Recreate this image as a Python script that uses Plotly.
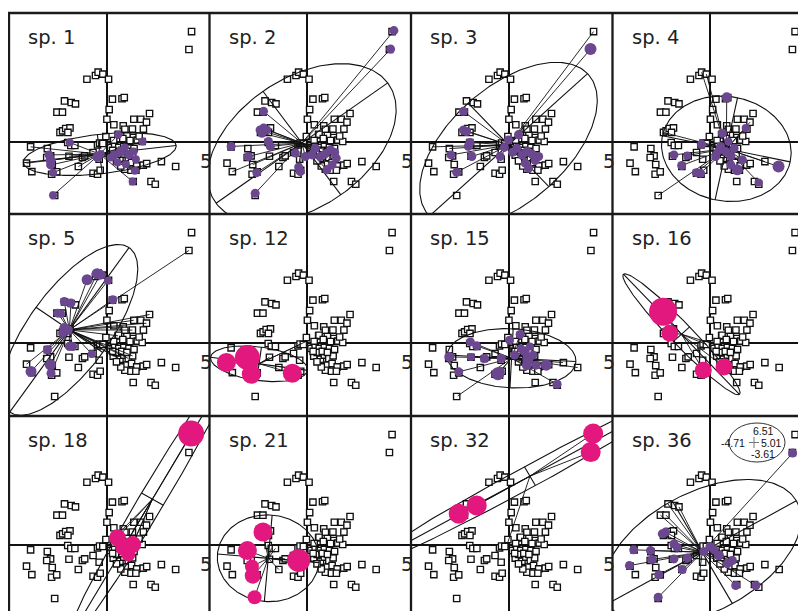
import math
import plotly.graph_objects as go

# page body has an 8px margin, so the figure is 8px smaller and shifted
PAGE_OFF = 8
W, H = 806 - PAGE_OFF, 611 - PAGE_OFF

# ---------------- data (data units of the ordination plane) ----------------
site_x = [4.17, 4.04,
          -0.96, -0.54, -0.41, -0.18, 0.10,
          -2.06, -1.73, -1.52, -2.43, -2.16,
          0.29, 0.76, 0.87, 0.13, 0.02, 0.36,
          1.34, 1.68, 2.11, 1.96, 0.82, 0.90, 1.27, 1.81,
          -2.28, -2.15, -2.00, -1.79, -1.89,
          -1.90, -1.75, -1.55, -0.44, -0.34, -0.18, -0.03,
          -3.72, -2.90, -2.74, -2.93, -3.92, -3.66, -2.66, -2.69, -2.44, -2.54,
          -1.84, -1.38, -1.18, -1.07, -0.66, -0.36, -0.66, -0.44, -0.31,
          0.57, 0.59, 1.31, 1.51, 1.75, 1.60, 1.00, 0.80, 1.15, 0.35,
          0.33, 0.66, 0.85, 1.07, 1.28, 0.98, 1.23, 1.48, 1.80, 1.97, 0.90, 1.20, 1.44, 0.70, 0.49,
          2.69, 3.39, 1.31, 2.18, 2.39,
          0.20, 0.40, 0.60, 0.85, 1.10, 1.35, 0.50, 0.75, 1.00, 0.30]
site_y = [5.58, 4.67,
          3.16, 3.35, 3.52, 3.42, 3.16,
          2.06, 1.98, 1.91, 1.49, 1.49,
          2.15, 2.17, 2.23, 1.62, 1.13, 0.85,
          1.13, 1.13, 1.42, 0.98, 0.80, 0.62, 0.63, 0.63,
          0.46, 0.54, 0.66, 0.69, 0.46,
          -0.05, -0.20, -0.20, -0.17, -0.08, -0.10, 0.25,
          -0.27, -0.36, -0.73, -0.81, -1.10, -1.53, -1.17, -1.66, -1.54, -2.74,
          -0.75, -1.27, -0.81, -0.73, -0.56, -0.90, -1.61, -1.66, -1.46,
          0.34, 0.37, 0.20, 0.07, 0.00, 0.28, 0.30, 0.15, 0.05, 0.05,
          -0.69, -0.85, -0.64, -0.81, -0.68, -1.15, -1.07, -1.24, -1.20, -1.12, -1.41, -1.46, -1.46, -1.24, -0.98,
          -1.02, -1.27, -2.03, -2.03, -2.17,
          -0.30, -0.25, -0.30, -0.25, -0.30, -0.35, -0.50, -0.45, -0.50, -0.45]

sp1 = dict(label="sp. 1", c=(-0.33, -0.64), ell=(3.77, 1.0, 6.7),
           x=[-2.82, -2.74, -2.74, -2.62, -2.62, -1.80, -0.44, -0.28, 0.38, 0.57, 0.70, 0.90, 1.11, 1.33, 1.44, 1.77, 1.28, 0.95, 1.39, 0.21, 0.54],
           y=[-0.68, -0.95, -1.19, -1.58, -2.73, -0.05, -0.78, -0.64, -0.68, 0.34, -0.51, -0.31, -0.68, -0.51, -0.90, 0.00, -2.03, -1.15, -1.49, -0.81, -1.07],
           s=[9, 10, 9, 8, 8, 8, 10, 8, 9, 8, 10, 8, 9, 8, 8, 8, 8, 8, 8, 8, 8],
           lx=[-3.92, -3.72, -1.38, -1.84], ly=[-1.10, -0.27, -1.27, -0.75])
sp2 = dict(label="sp. 2", c=(-0.25, -0.08), ell=(5.2, 3.25, 36),
           x=[4.26, 4.10, -3.72, -2.54, -2.87, -2.46, -2.13, -2.30, -2.13, -1.97, -2.21, -1.89, -1.80, -0.33, -0.57, -0.08, 0.25, 0.66, 0.90, 1.15, 1.36, 1.43, 0.98, 1.23, 0.41, -0.41],
           y=[5.63, 4.69, -0.25, -2.63, -0.76, -1.58, 1.53, 0.59, 0.68, 0.59, 0.42, 0.00, -0.25, -1.53, -0.59, -0.76, -0.68, -0.76, -0.63, -0.42, -0.56, -0.85, -1.44, -1.19, -0.34, -1.30],
           s=[9] * 26,
           lx=[-3.66, -2.66], ly=[-1.53, -1.17])
sp3 = dict(label="sp. 3", c=(0.0, -0.17), ell=(5.3, 2.9, 43),
           x=[4.02, -2.21, -2.21, -2.05, -1.89, -1.97, -1.80, -2.82, -2.54, -0.41, 0.00, 0.49, 0.41, 0.66, 0.90, 1.15, 0.82, 0.98, 1.31, 1.48, -0.20, 0.20],
           y=[4.69, 1.53, 0.59, 0.51, -0.05, -0.25, -0.76, -0.68, -1.56, -0.76, 0.08, 0.34, -0.34, -0.68, -0.51, -0.63, -1.10, -1.36, -0.97, -0.76, -0.30, -0.55],
           s=[12] + [9] * 21,
           lx=[4.17, -3.72, -2.90], ly=[5.58, -0.27, -0.36])
sp4 = dict(label="sp. 4", c=(0.8, -0.37), ell=(3.2, 2.65, -12),
           x=[0.82, 3.36, -1.77, -1.39, -1.11, -0.67, -0.46, -0.41, 0.61, 0.52, 0.28, 0.77, 1.02, 1.18, 1.34, 1.75, 1.59, 2.38, 1.02, 0.90, 0.40],
           y=[2.24, -1.27, -0.68, -1.22, -0.71, -1.58, -1.61, -0.14, 0.42, -0.25, -0.76, -0.51, -0.76, -0.34, -1.44, 0.68, -0.93, -2.08, -1.19, 0.00, -0.50],
           s=[10, 12, 9, 9, 8, 9, 9, 9, 9, 9, 9, 9, 9, 9, 11, 8, 9, 8, 9, 8, 8],
           lx=[-0.41, -0.18, -2.54, -2.28, 2.69, 1.96], ly=[3.52, 3.42, -2.74, 0.46, -1.02, 0.98])
sp5 = dict(label="sp. 5", c=(-1.82, 0.64), ell=(5.1, 2.0, 55),
           x=[-0.95, -0.46, -0.30, 0.07, -2.07, -1.74, -2.39, -2.23, -2.07, -1.90, -2.15, 0.31, -1.82, -1.66, -2.89, -2.75, -2.72, -3.70, -0.72],
           y=[3.19, 3.49, 3.44, 3.14, 2.08, 2.00, 1.49, 1.46, 0.73, 0.64, 0.47, 2.17, -0.20, -0.20, -0.37, -1.14, -1.56, -1.47, -0.58],
           s=[11, 11, 10, 8, 9, 9, 9, 8, 10, 10, 9, 9, 9, 9, 9, 11, 9, 11, 8],
           lx=[4.04, 2.11, 1.96, 1.34, 1.27, 0.82, 0.57, 0.33, 0.66, 1.07, 0.85, -0.44, -0.18, 1.28, -3.92],
           ly=[4.67, 1.42, 0.98, 1.13, 0.63, 0.80, 0.34, -0.69, -0.85, -0.81, -0.64, -0.17, -0.10, -0.68, -1.10])
sp12 = dict(label="sp. 12", c=(-2.35, -1.08), ell=(2.4, 0.85, -8),
            x=[-3.95, -2.92, -2.73, -0.72], y=[-1.02, -0.76, -1.61, -1.56], s=[19, 25, 19, 19],
            lx=[-0.34, -0.05, -1.84], ly=[-0.10, 0.05, -0.75])
sp15 = dict(label="sp. 15", c=(0.15, -0.80), ell=(3.16, 1.5, -3),
            x=[-2.90, -1.87, -1.56, -1.84, -1.18, -2.44, -0.52, -0.44, -0.36, 0.05, 0.57, 0.30, 0.79, 0.95, 0.90, 1.20, 1.36, 1.85, 2.38, 0.60, 1.05],
            y=[-0.73, 0.03, -0.17, -0.73, -0.81, -1.49, -1.58, -1.49, -0.81, 0.12, 0.41, -0.64, -0.44, -0.81, -1.15, -0.64, -1.15, -1.15, -2.12, -0.30, -0.20],
            s=[10, 9, 9, 8, 9, 9, 13, 10, 9, 9, 9, 9, 10, 11, 10, 9, 9, 11, 9, 8, 8],
            lx=[-2.49, 2.67, 3.39], ly=[-2.71, -1.02, -1.27])
sp16 = dict(label="sp. 16", c=(-1.4, 0.42), ell=(4.17, 0.55, -47),
            x=[-2.30, -1.97, -0.33, 0.69], y=[1.56, 0.47, -1.41, -1.24], s=[28, 17, 17, 17],
            lx=[-0.05, -0.18], ly=[0.00, -0.10])
sp18 = dict(label="sp. 18", c=(2.25, 2.3), ell=(8.5, 0.62, 60),
            x=[4.15, 0.54, 0.84, 1.28, 1.07], y=[5.63, 0.34, -0.14, 0.00, -0.51], s=[26, 17, 17, 17, 14],
            lx=[0.82, 1.27], ly=[0.80, 0.63])
sp21 = dict(label="sp. 21", c=(-1.9, -0.7), ell=(2.5, 2.2, -5),
            x=[-2.16, -2.92, -2.70, -2.66, -2.57, -0.41], y=[0.63, -0.31, -1.12, -1.58, -2.68, -0.81],
            s=[19, 19, 14, 16, 14, 23],
            lx=[-1.75, -1.55, -1.18, -1.07, -1.90, -1.38], ly=[-0.20, -0.20, -0.81, -0.73, -0.05, -1.27])
sp32 = dict(label="sp. 32", c=(1.05, 3.47), ell=(9.5, 0.55, 29.3),
            x=[4.15, 4.03, -2.44, -1.56], y=[5.63, 4.69, 1.56, 1.98], s=[20, 20, 20, 20],
            lx=[-0.03], ly=[0.12])
sp36 = dict(label="sp. 36", c=(-0.38, -0.39), ell=(5.3, 3.0, 29.5),
            x=[4.05, -3.74, -2.92, -3.95, -2.84, -2.54, -2.51, -1.36, -2.34, -2.18, -1.77, -1.61, -1.77, -1.11, 1.26, 2.25, 0.85, 0.44, 1.10, 0.20, -0.30, 0.00],
            y=[4.64, -0.27, -0.31, -1.07, -0.76, -2.68, -1.53, -1.27, 0.54, 0.63, 0.03, -0.14, -0.73, -0.68, -2.08, -2.08, -0.98, -0.56, -0.81, -0.27, -0.35, -0.10],
            s=[9] * 17 + [10, 9, 9, 9, 9],
            lx=[-2.06, -2.43, -2.16, -0.54, -1.52], ly=[2.06, 1.49, 1.49, -1.66, 1.91])

panels = [sp1, sp2, sp3, sp4, sp5, sp12, sp15, sp16, sp18, sp21, sp32, sp36]
magenta_species = {"sp. 12", "sp. 16", "sp. 18", "sp. 21", "sp. 32"}
inset_top, inset_left, inset_right, inset_bottom = "6.51", "-4.71", "5.01", "-3.61"

# ---------------- layout geometry (screen pixels) ----------------
COL_EDGES = [9, 209.5, 411, 612.5, 806]
ROW_EDGES = [13, 214, 416, 611]
OX, OY = 97.5, 128.5          # origin offset inside a panel
PX_X, PX_Y = 20.4, 19.7        # pixels per data unit

PURPLE = "#6a478f"
MAGENTA = "#e2187f"


def px(xp):
    return (xp - PAGE_OFF) / W


def py(yp):
    return 1 - (yp - PAGE_OFF) / H


def ellipse(cx, cy, a, b, ang):
    th = math.radians(ang)
    n = 240
    xs, ys = [], []
    for k in range(n + 1):
        t = 2 * math.pi * k / n
        xs.append(cx + a * math.cos(t) * math.cos(th) - b * math.sin(t) * math.sin(th))
        ys.append(cy + a * math.cos(t) * math.sin(th) + b * math.sin(t) * math.cos(th))
    ux, uy = math.cos(th), math.sin(th)
    vx, vy = -math.sin(th), math.cos(th)
    xs += [None, cx - a * ux, cx + a * ux, None, cx - b * vx, cx + b * vx]
    ys += [None, cy - a * uy, cy + a * uy, None, cy - b * vy, cy + b * vy]
    return xs, ys


fig = go.Figure()
layout_axes = {}
annotations = []
shapes = []

for i, sp in enumerate(panels):
    r, c = divmod(i, 4)
    xa = "x" if i == 0 else f"x{i + 1}"
    ya = "y" if i == 0 else f"y{i + 1}"
    L, R = COL_EDGES[c], COL_EDGES[c + 1]
    T, B = ROW_EDGES[r], ROW_EDGES[r + 1]
    xr = [-OX / PX_X, (R - L - OX) / PX_X]
    yr = [-(B - T - OY) / PX_Y, OY / PX_Y]
    common = dict(showgrid=False, showticklabels=False, ticks="", showline=False,
                  zeroline=True, zerolinecolor="#111", zerolinewidth=1.5, fixedrange=True)
    layout_axes["xaxis" if i == 0 else f"xaxis{i + 1}"] = dict(
        domain=[px(L), min(1, px(R))], range=xr, anchor=ya, **common)
    layout_axes["yaxis" if i == 0 else f"yaxis{i + 1}"] = dict(
        domain=[max(0, py(B)), py(T)], range=yr, anchor=xa, **common)

    # site squares
    fig.add_trace(go.Scatter(x=site_x, y=site_y, mode="markers", xaxis=xa, yaxis=ya,
                             marker=dict(symbol="square", size=6.3, color="white",
                                         line=dict(color="#111", width=1.35)),
                             hoverinfo="skip", showlegend=False))
    # star lines
    cx, cy = sp["c"]
    sx, sy = [], []
    for X, Y in list(zip(sp["x"], sp["y"])) + list(zip(sp["lx"], sp["ly"])):
        sx += [cx, X, None]
        sy += [cy, Y, None]
    fig.add_trace(go.Scatter(x=sx, y=sy, mode="lines", xaxis=xa, yaxis=ya,
                             line=dict(color="#111", width=0.9),
                             hoverinfo="skip", showlegend=False))
    # ellipse + its axes
    a, b, ang = sp["ell"]
    ex, ey = ellipse(cx, cy, a, b, ang)
    fig.add_trace(go.Scatter(x=ex, y=ey, mode="lines", xaxis=xa, yaxis=ya,
                             line=dict(color="#111", width=1.1),
                             hoverinfo="skip", showlegend=False))
    # species dots
    col = MAGENTA if sp["label"] in magenta_species else PURPLE
    fig.add_trace(go.Scatter(x=sp["x"], y=sp["y"], mode="markers", xaxis=xa, yaxis=ya,
                             marker=dict(size=sp["s"], color=col, opacity=1, line=dict(width=0)),
                             hoverinfo="skip", showlegend=False))

    annotations.append(dict(text=sp["label"], x=px(L + 17), y=py(T + 24),
                            xref="paper", yref="paper", xanchor="left", yanchor="middle",
                            showarrow=False,
                            font=dict(family="DejaVu Sans", size=19.5, color="#222")))
    if c < 3:
        annotations.append(dict(text="5", x=px(R - 4), y=py(T + OY + 19),
                                xref="paper", yref="paper", xanchor="center", yanchor="middle",
                                showarrow=False,
                                font=dict(family="DejaVu Sans", size=19, color="#222")))

# panel grid
for xe in COL_EDGES[:4]:
    shapes.append(dict(type="line", xref="paper", yref="paper",
                       x0=px(xe), x1=px(xe), y0=py(ROW_EDGES[0] - 1), y1=0,
                       line=dict(color="#1a1a1a", width=2.3)))
for ye in ROW_EDGES[:3]:
    shapes.append(dict(type="line", xref="paper", yref="paper",
                       x0=px(COL_EDGES[0] - 1), x1=1, y0=py(ye), y1=py(ye),
                       line=dict(color="#1a1a1a", width=2.3)))

# inset scale legend in sp. 36
shapes.append(dict(type="circle", xref="paper", yref="paper",
                   x0=px(729), x1=px(785), y0=py(462), y1=py(423),
                   fillcolor="white", line=dict(color="#333", width=1)))
shapes.append(dict(type="line", xref="paper", yref="paper",
                   x0=px(749), x1=px(759), y0=py(442.5), y1=py(442.5),
                   line=dict(color="#777", width=1)))
shapes.append(dict(type="line", xref="paper", yref="paper",
                   x0=px(754), x1=px(754), y0=py(437), y1=py(448),
                   line=dict(color="#777", width=1)))
ifont = dict(family="Liberation Sans", size=10.5, color="#111")
for txt, xx, yy in [(inset_top, 763, 431), (inset_left, 733, 442.5),
                    (inset_right, 771, 442.5), (inset_bottom, 763, 454)]:
    annotations.append(dict(text=txt, x=px(xx), y=py(yy), xref="paper", yref="paper",
                            xanchor="center", yanchor="middle", showarrow=False, font=ifont))

fig.update_layout(width=W, height=H, margin=dict(l=0, r=0, t=0, b=0),
                  paper_bgcolor="white", plot_bgcolor="white",
                  annotations=annotations, shapes=shapes, **layout_axes)

fig.write_html("out.html")
